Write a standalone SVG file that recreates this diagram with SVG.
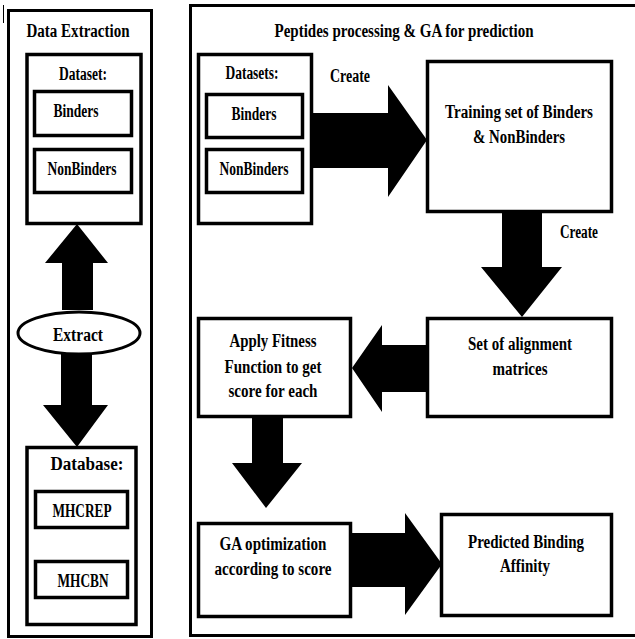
<svg xmlns="http://www.w3.org/2000/svg" width="635" height="639" viewBox="0 0 635 639">
<style>
.panel{fill:#fff;stroke:#000;stroke-width:3}
.box{fill:#fff;stroke:#000;stroke-width:3.5}
.arr{fill:#000;stroke:none}
text{font-family:"Liberation Serif","Times New Roman",serif;font-weight:bold;font-size:18px;fill:#000;text-anchor:middle}
</style>
<rect width="635" height="639" fill="#fff"/>
<line x1="3.5" y1="5" x2="3.5" y2="23" stroke="#000" stroke-width="1"/>
<g id="panel-left">
<rect class="panel" x="8.5" y="10.5" width="143" height="626"/>
<text x="78" y="37" textLength="103" lengthAdjust="spacingAndGlyphs">Data Extraction</text>
</g>
<g id="panel-right">
<rect class="panel" x="190.5" y="5.5" width="460" height="630"/>
<text x="404" y="37" textLength="259" lengthAdjust="spacingAndGlyphs">Peptides processing &amp; GA for prediction</text>
</g>
<g id="connectors">
<polygon class="arr" points="62,310 62,263 45,263 77,224 108,263 93,263 93,310"/>
<polygon class="arr" points="61,354 92,354 92,405 108,405 77,447 43,405 61,405"/>
<polygon class="arr" points="312,113 388,113 388,85 427,140 388,197 388,168 312,168"/>
<polygon class="arr" points="502,212 542,212 542,267 562,267 522,317 481,267 502,267"/>
<polygon class="arr" points="427,345 382,345 382,325 352,368 382,412 382,392 427,392"/>
<polygon class="arr" points="252,417 283,417 283,463 302,463 266,508 232,463 252,463"/>
<polygon class="arr" points="351,533 405,533 405,513 442,564 405,615 405,587 351,587"/>
<text x="350" y="82" textLength="40" lengthAdjust="spacingAndGlyphs">Create</text>
<text x="579" y="238" textLength="38" lengthAdjust="spacingAndGlyphs">Create</text>
</g>
<g id="dataset-left">
<rect class="box" x="27" y="54.5" width="114" height="169"/>
<text x="83" y="80" textLength="48" lengthAdjust="spacingAndGlyphs">Dataset:</text>
</g>
<g id="binders-left">
<rect class="box" x="34.5" y="91.5" width="97" height="44"/>
<text x="76" y="117" textLength="45" lengthAdjust="spacingAndGlyphs">Binders</text>
</g>
<g id="nonbinders-left">
<rect class="box" x="34.5" y="149.5" width="97" height="43"/>
<text x="82" y="175" textLength="69" lengthAdjust="spacingAndGlyphs">NonBinders</text>
</g>
<g id="extract">
<ellipse cx="79" cy="333" rx="61" ry="21" fill="#fff" stroke="#000" stroke-width="3"/>
<text x="78" y="341" textLength="50" lengthAdjust="spacingAndGlyphs">Extract</text>
</g>
<g id="database">
<rect class="box" x="27" y="447.5" width="109" height="177"/>
<text x="87" y="470" textLength="73" lengthAdjust="spacingAndGlyphs">Database:</text>
</g>
<g id="mhcrep">
<rect class="box" x="35.5" y="491.5" width="92" height="36"/>
<text x="82" y="517" textLength="59" lengthAdjust="spacingAndGlyphs">MHCREP</text>
</g>
<g id="mhcbn">
<rect class="box" x="35.5" y="561.5" width="92" height="36"/>
<text x="83" y="587" textLength="51" lengthAdjust="spacingAndGlyphs">MHCBN</text>
</g>
<g id="datasets-right">
<rect class="box" x="198.5" y="54.5" width="113" height="169"/>
<text x="252" y="79" textLength="53" lengthAdjust="spacingAndGlyphs">Datasets:</text>
</g>
<g id="binders-right">
<rect class="box" x="206.5" y="94.5" width="96" height="43"/>
<text x="254" y="120" textLength="45" lengthAdjust="spacingAndGlyphs">Binders</text>
</g>
<g id="nonbinders-right">
<rect class="box" x="206.5" y="149.5" width="96" height="43"/>
<text x="254" y="175" textLength="69" lengthAdjust="spacingAndGlyphs">NonBinders</text>
</g>
<g id="training">
<rect class="box" x="427.5" y="61.5" width="184" height="150"/>
<text x="519" y="118" textLength="148" lengthAdjust="spacingAndGlyphs">Training set of Binders</text>
<text x="519" y="143" textLength="92" lengthAdjust="spacingAndGlyphs">&amp; NonBinders</text>
</g>
<g id="alignment">
<rect class="box" x="427.5" y="318.5" width="184" height="98"/>
<text x="520" y="350" textLength="104" lengthAdjust="spacingAndGlyphs">Set of alignment</text>
<text x="520" y="375" textLength="55" lengthAdjust="spacingAndGlyphs">matrices</text>
</g>
<g id="fitness">
<rect class="box" x="198.5" y="318.5" width="152" height="98"/>
<text x="273" y="347" textLength="87" lengthAdjust="spacingAndGlyphs">Apply Fitness</text>
<text x="273" y="373" textLength="97" lengthAdjust="spacingAndGlyphs">Function to get</text>
<text x="273" y="397" textLength="89" lengthAdjust="spacingAndGlyphs">score for each</text>
</g>
<g id="ga">
<rect class="box" x="198.5" y="523.5" width="152" height="93"/>
<text x="273" y="550" textLength="107" lengthAdjust="spacingAndGlyphs">GA optimization</text>
<text x="273" y="575" textLength="117" lengthAdjust="spacingAndGlyphs">according to score</text>
</g>
<g id="predicted">
<rect class="box" x="441.5" y="514.5" width="170" height="101"/>
<text x="526" y="548" textLength="116" lengthAdjust="spacingAndGlyphs">Predicted Binding</text>
<text x="525" y="572" textLength="50" lengthAdjust="spacingAndGlyphs">Affinity</text>
</g>
</svg>
